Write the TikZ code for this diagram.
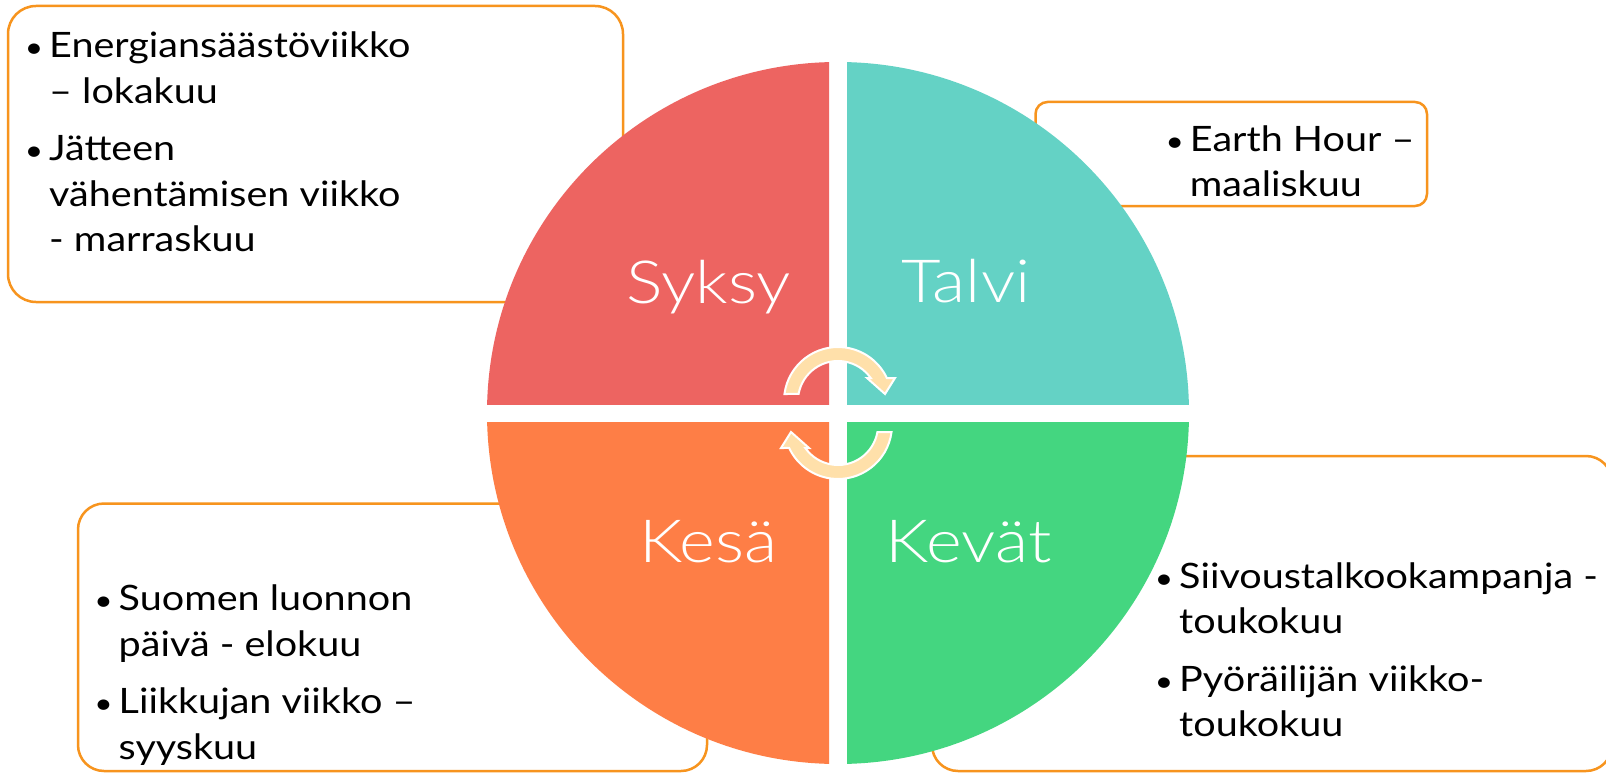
\documentclass[tikz,border=0pt]{standalone}
\usepackage{fontspec}
\setmainfont[FakeStretch=1.13]{Lato}
\newfontfamily\labelfont[FakeStretch=1.15]{Lato Light}
\definecolor{syksyc}{RGB}{237,100,97}
\definecolor{talvic}{RGB}{100,210,197}
\definecolor{kesac}{RGB}{254,126,70}
\definecolor{kevatc}{RGB}{68,214,128}
\definecolor{boxline}{RGB}{247,148,30}
\definecolor{arrowfill}{RGB}{255,224,170}
\newcommand{\bul}{\llap{{\fontsize{28}{28}\selectfont •}\hspace{6pt}}}
\begin{document}
\begin{tikzpicture}[x=1pt,y=-1pt,
  infobox/.style={draw=boxline, line width=2.5pt, fill=white},
  season/.style={text=white, font=\labelfont\fontsize{59.5}{60}\selectfont, anchor=base, inner sep=0pt},
  itemtext/.style={anchor=base west, inner sep=0pt, font=\fontsize{35}{45.5}\selectfont, text=black},
  arrowshape/.style={fill=arrowfill, draw=white, line width=2pt, line join=miter}]
\useasboundingbox (0,0) rectangle (1606,773);
\clip (0,0) rectangle (1606,773);
\fill[white] (0,0) rectangle (1606,773);
% boxes
\draw[infobox, rounded corners=28pt] (8,6) rectangle (623,302);
\draw[infobox, rounded corners=12pt] (1035.5,102) rectangle (1427,206);
\draw[infobox, rounded corners=26pt] (78,503.5) rectangle (707,771);
\draw[infobox, rounded corners=26pt] (932,456) rectangle (1612,771);
% quadrants
\begin{scope}\clip (0,0) rectangle (829,404); \fill[syksyc] (838,413) circle[radius=351]; \end{scope}
\begin{scope}\clip (847,0) rectangle (1606,404); \fill[talvic] (838,413) circle[radius=351]; \end{scope}
\begin{scope}\clip (0,422) rectangle (829,773); \fill[kesac] (838,413) circle[radius=351]; \end{scope}
\begin{scope}\clip (847,422) rectangle (1606,773); \fill[kevatc] (838,413) circle[radius=351]; \end{scope}
% arrows
\draw[arrowshape] (784.46,394) arc[start angle=-172.55, end angle=-25.2, radius=54]
  -- (895,378) -- (885,394) -- (867,378) -- (870.7,378)
  arc[start angle=-35.1, end angle=-169.9, radius=40] -- cycle;
\begin{scope}[rotate around={180:(838,413)}]
\draw[arrowshape] (784.46,394) arc[start angle=-172.55, end angle=-25.2, radius=54]
  -- (895,378) -- (885,394) -- (867,378) -- (870.7,378)
  arc[start angle=-35.1, end angle=-169.9, radius=40] -- cycle;
\end{scope}
% season labels
\node[season] (syksy) at (708.5,303) {Syksy};
\node[season] (talvi) at (965.9,302) {Talvi};
\node[season] (kesa) at (708.5,562) {Kesä};
\node[season] (kevat) at (968.7,562) {Kevät};
% texts
\node[itemtext] (tltext) at (49,57.7) {\begin{tabular}[t]{@{}l@{}}\bul Energiansäästöviikko\\ – lokakuu\\[12pt] \bul Jätteen\\ vähentämisen viikko\\ - marraskuu\end{tabular}};
\node[itemtext] (trtext) at (1189.7,151) {\begin{tabular}[t]{@{}l@{}}\bul Earth Hour –\\ maaliskuu\end{tabular}};
\node[itemtext] (bltext) at (118.5,610.7) {\begin{tabular}[t]{@{}l@{}}\bul Suomen luonnon\\ päivä - elokuu\\[12pt] \bul Liikkujan viikko –\\ syyskuu\end{tabular}};
\node[itemtext] (brtext) at (1179,588) {\begin{tabular}[t]{@{}l@{}}\bul Siivoustalkookampanja -\\ toukokuu\\[12pt] \bul Pyöräilijän viikko-\\ toukokuu\end{tabular}};
\end{tikzpicture}
\end{document}
